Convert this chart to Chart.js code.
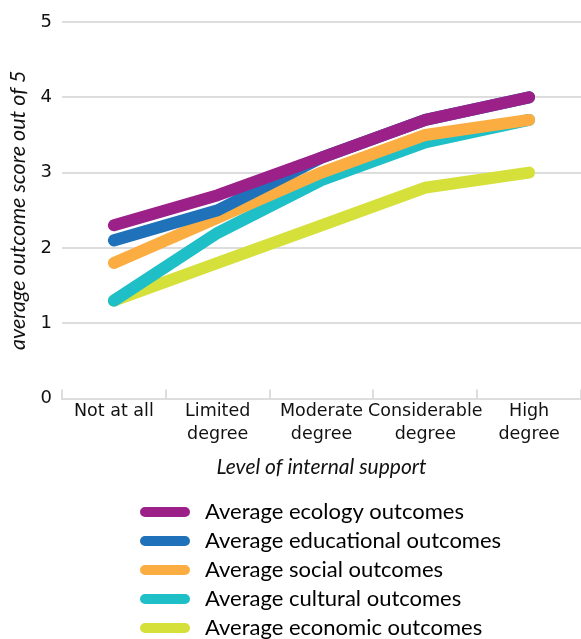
<!DOCTYPE html>
<html>
<head>
<meta charset="utf-8">
<script src="https://cdn.jsdelivr.net/npm/chart.js@4"></script>
<style>
  html, body { margin: 0; padding: 0; background: #ffffff; }
  #wrap { width: 581px; height: 639px; }
</style>
</head>
<body>
<div id="wrap"><canvas id="chart" width="581" height="639"></canvas></div>
<script>
// Level of internal support (x categories), each split over two lines
const categories = [
  ['Not at all'],
  ['Limited', 'degree'],
  ['Moderate', 'degree'],
  ['Considerable', 'degree'],
  ['High', 'degree']
];

// Average outcome scores (out of 5) for each level of support
const ecology     = [2.3, 2.7, 3.2, 3.7, 4.0];
const educational = [2.1, 2.5, 3.2, 3.7, 4.0];
const social      = [1.8, 2.4, 3.0, 3.5, 3.7];
const cultural    = [1.3, 2.2, 2.9, 3.4, 3.7];
const economic    = [1.3, 1.8, 2.3, 2.8, 3.0];

const seriesNames = [
  'Average ecology outcomes',
  'Average educational outcomes',
  'Average social outcomes',
  'Average cultural outcomes',
  'Average economic outcomes'
];
const seriesColors = ['#9b2189', '#1f72b9', '#fbad42', '#1fbfc8', '#d5e03a'];
const seriesValues = [ecology, educational, social, cultural, economic];

const yTicks = [0, 1, 2, 3, 4, 5];

const LEGEND_INDENT = 129;

// Moves the legend column in from the left edge of the canvas
const legendIndent = {
  id: 'legendIndent',
  afterLayout(chart) {
    const lg = chart.legend;
    if (lg) {
      lg.left += LEGEND_INDENT;
      lg.right += LEGEND_INDENT;
    }
  }
};

const datasets = seriesNames.map((name, i) => ({
  label: name,
  data: seriesValues[i],
  borderColor: seriesColors[i],
  backgroundColor: seriesColors[i],
  borderWidth: 12,
  borderCapStyle: 'round',
  borderJoinStyle: 'round',
  pointRadius: 0,
  pointHoverRadius: 0,
  tension: 0,
  fill: false
}));

new Chart(document.getElementById('chart'), {
  type: 'line',
  data: { labels: categories, datasets },
  plugins: [legendIndent],
  options: {
    responsive: false,
    animation: false,
    layout: { padding: { top: 22, right: -7, bottom: -10, left: 0 } },
    plugins: {
      tooltip: { enabled: false },
      legend: {
        position: 'bottom',
        align: 'start',
        labels: {
          // pill swatch: a white border trims the filled box down to a rounded bar
          boxWidth: 58,
          boxHeight: 18,
          useBorderRadius: true,
          borderRadius: 9,
          padding: 7,
          color: '#111111',
          font: { family: 'Lato', size: 22 },
          generateLabels(chart) {
            return chart.data.datasets.map((ds, i) => ({
              text: ds.label,
              fillStyle: ds.borderColor,
              strokeStyle: '#ffffff',
              lineWidth: 8,
              borderRadius: 9,
              hidden: false,
              datasetIndex: i
            }));
          }
        }
      }
    },
    scales: {
      x: {
        offset: true,
        grid: {
          display: true,
          offset: true,
          drawOnChartArea: false,
          drawTicks: true,
          tickLength: -9,
          color: '#dddddd',
          lineWidth: 2
        },
        border: { display: true, color: '#dddddd', width: 2 },
        ticks: {
          color: '#111111',
          font: { family: 'DejaVu Sans', size: 17.5, lineHeight: 1.3 },
          padding: 11,
          maxRotation: 0,
          autoSkip: false
        },
        title: {
          display: true,
          text: 'Level of internal support',
          color: '#111111',
          font: { family: 'Lato', size: 21, style: 'italic', lineHeight: 1.0 },
          padding: { top: 0, bottom: 16 }
        }
      },
      y: {
        min: 0,
        max: 5,
        afterFit(scale) { scale.width = 62; },
        afterBuildTicks(scale) { scale.ticks = yTicks.map(v => ({ value: v })); },
        grid: {
          color: '#dddddd',
          lineWidth: 2,
          drawTicks: false
        },
        border: { display: false },
        ticks: {
          color: '#111111',
          font: { family: 'DejaVu Sans', size: 18 },
          padding: 10
        },
        title: {
          display: true,
          text: 'average outcome score out of 5',
          color: '#111111',
          font: { family: 'Lato', size: 21.5, style: 'italic', lineHeight: 1.2 },
          padding: { top: 5, bottom: 0 }
        }
      }
    }
  }
});
</script>
</body>
</html>
